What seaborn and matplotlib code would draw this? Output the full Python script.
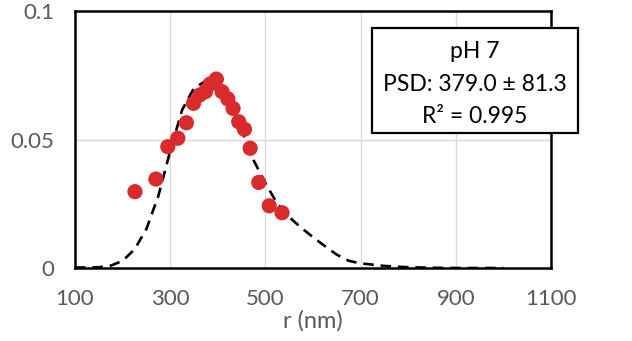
import matplotlib
matplotlib.use("Agg")
import matplotlib.pyplot as plt
import matplotlib.patches as mpatches
import seaborn as sns
import pandas as pd

# measured data points (r in nm, fraction)
r_points = [226, 270, 295, 316, 334, 349, 362, 374, 384, 397, 409, 421, 432, 444, 456, 468, 486, 508, 535]
y_points = [0.0297, 0.0346, 0.0472, 0.0505, 0.0565, 0.0641, 0.0673, 0.0686, 0.0716, 0.0735,
            0.0686, 0.0658, 0.0621, 0.0569, 0.0540, 0.0466, 0.0333, 0.0242, 0.0215]

# fitted distribution curve
r_fit = [100, 125, 150, 175, 200, 225, 250, 275, 300, 325, 350, 375, 400, 425, 450, 475, 500,
         525, 550, 575, 600, 625, 650, 675, 700, 725, 750, 800, 850, 900, 1000]
y_fit = [0.0002, 0.0002, 0.0003, 0.0009, 0.0028, 0.0072, 0.0152, 0.0280, 0.0455, 0.0615, 0.0700,
         0.0728, 0.0715, 0.0650, 0.0535, 0.0420, 0.0330, 0.0250, 0.0198, 0.0157, 0.0120, 0.0085,
         0.0052, 0.0028, 0.0018, 0.0013, 0.0008, 0.0003, 0.0001, 0.0, 0.0]

x_ticks = [100, 300, 500, 700, 900, 1100]
y_ticks = [0, 0.05, 0.1]
y_tick_labels = ["0", "0.05", "0.1"]
box_lines = ["pH 7", "PSD: 379.0 \u00b1 81.3", "R\u00b2 = 0.995"]
x_label = "r (nm)"

sns.set_theme(style="white")
plt.rcParams["font.family"] = ["Lato", "DejaVu Sans"]

fig = plt.figure(figsize=(6.32, 3.41), dpi=100)
ax = fig.add_axes([75 / 632, 73 / 341, 476 / 632, 257 / 341])

pts = pd.DataFrame({"r": r_points, "y": y_points})
fit = pd.DataFrame({"r": r_fit, "y": y_fit})

sns.lineplot(data=fit, x="r", y="y", ax=ax, color="black", linewidth=1.9,
             linestyle=(0, (4, 2.6)), zorder=3)
sns.scatterplot(data=pts, x="r", y="y", ax=ax, color="#D92B2B", s=120,
                edgecolor="none", zorder=4)

ax.set_xlim(100, 1100)
ax.set_ylim(0, 0.1)
ax.set_xticks(x_ticks)
ax.set_xticklabels([str(t) for t in x_ticks])
ax.set_yticks(y_ticks)
ax.set_yticklabels(y_tick_labels)

ax.grid(False)
for xv in x_ticks[1:-1]:
    ax.axvline(xv, color="#D9D9D9", linewidth=1.0, zorder=1)
ax.axhline(0.05, color="#D9D9D9", linewidth=1.0, zorder=1)

for sp in ax.spines.values():
    sp.set_color("black")
    sp.set_linewidth(1.8)
    sp.set_visible(True)

ax.tick_params(axis="both", length=0, labelsize=16, labelcolor="#595959")
ax.tick_params(axis="y", pad=15)
ax.tick_params(axis="x", pad=15)
ax.set_xlabel(x_label, fontsize=17, color="#595959", labelpad=1)
ax.set_ylabel("")

# text box (extends beyond plot area)
rect = mpatches.Rectangle((372 / 632, (341 - 133) / 341), 206 / 632, 105 / 341,
                          transform=fig.transFigure, facecolor="white",
                          edgecolor="black", linewidth=1.6, zorder=10)
fig.patches.append(rect)
baselines = [58.5, 91, 123]
for line, yy in zip(box_lines, baselines):
    fig.text(475 / 632, (341 - yy) / 341, line, ha="center", va="baseline",
             fontsize=16.5, color="black", zorder=11)

fig.savefig("out.png", dpi=100)
